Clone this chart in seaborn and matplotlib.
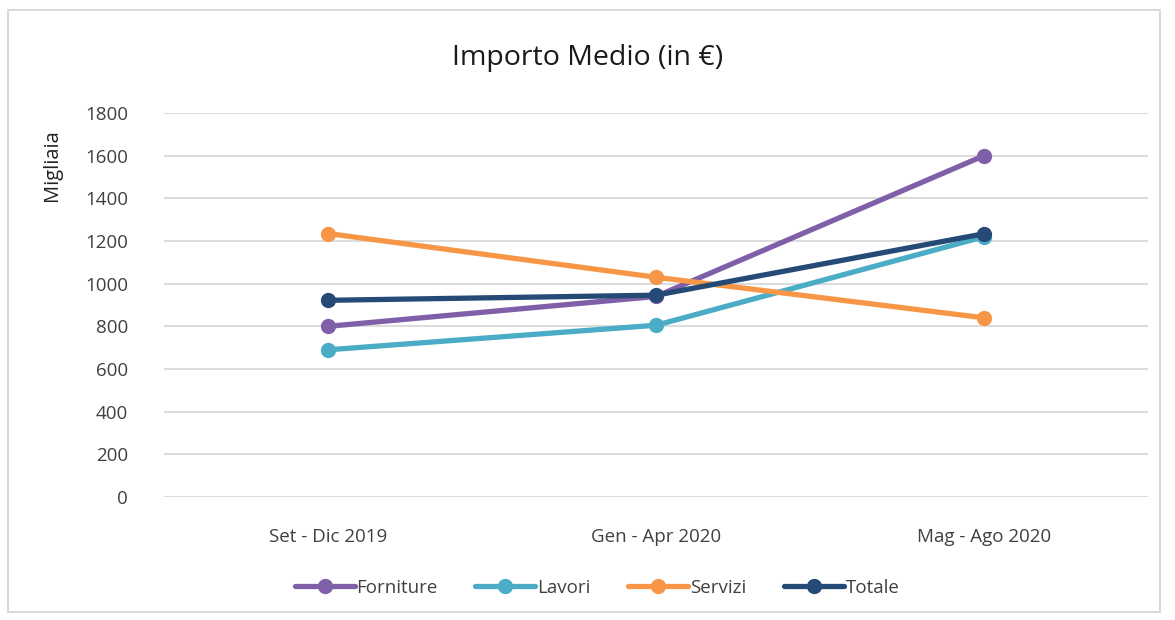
import numpy as np
import pandas as pd
import matplotlib
matplotlib.use('Agg')
import matplotlib.pyplot as plt
import seaborn as sns

# Data
periodi = ['Set - Dic 2019', 'Gen - Apr 2020', 'Mag - Ago 2020']
forniture = [800, 940, 1600]
lavori = [690, 805, 1220]
servizi = [1235, 1030, 840]
totale = [922, 946, 1234]

serie = ['Forniture', 'Lavori', 'Servizi', 'Totale']
colori = ['#7f5fa7', '#4bacc6', '#f79646', '#244a75']

df = pd.DataFrame({
    'periodo': periodi * 4,
    'valore': forniture + lavori + servizi + totale,
    'serie': np.repeat(serie, len(periodi)),
})

sns.set_theme(style='white')
plt.rcParams['font.family'] = ['Open Sans', 'DejaVu Sans']

fig = plt.figure(figsize=(11.75, 6.2), dpi=100)
ax = fig.add_axes([164 / 1175, 1 - 497 / 620, 984 / 1175, 384 / 620])

sns.lineplot(data=df, x='periodo', y='valore', hue='serie', hue_order=serie,
             palette=colori, marker='o', markersize=11, markeredgewidth=0,
             linewidth=3.8, ax=ax, sort=False)

ax.set_xlim(-0.5, 2.5)
ax.set_ylim(0, 1800)
ax.set_yticks(range(0, 1801, 200))
ax.yaxis.grid(True, color='#d9d9d9', linewidth=1.3)
ax.set_axisbelow(True)
for s in ax.spines.values():
    s.set_visible(False)
ax.tick_params(axis='y', length=0, pad=26, labelsize=13.5, labelcolor='#404040')
ax.tick_params(axis='x', length=0, pad=22, labelsize=13.5, labelcolor='#404040')
ax.set_xlabel('')
ax.set_ylabel('Migliaia', fontsize=14.5, color='#222222')
ax.yaxis.set_label_coords(-0.104, 0.865)

fig.text(0.5, 1 - 58 / 620, 'Importo Medio (in €)', ha='center', va='center',
         fontsize=20.5, color='#1a1a1a')

leg = ax.legend(loc='center', bbox_to_anchor=(597 / 1175, 1 - 588 / 620),
                bbox_transform=fig.transFigure, ncol=4, frameon=False,
                fontsize=13.5, handlelength=3.2, handletextpad=0.1,
                columnspacing=2.0)
for t in leg.get_texts():
    t.set_color('#404040')

# light frame around the chart area
fig.patches.append(plt.Rectangle((8 / 1175, 8 / 620), 1152 / 1175, 602 / 620,
                                 transform=fig.transFigure, fill=False,
                                 edgecolor='#d9d9d9', linewidth=1.5))

fig.savefig('out.png', dpi=100)
